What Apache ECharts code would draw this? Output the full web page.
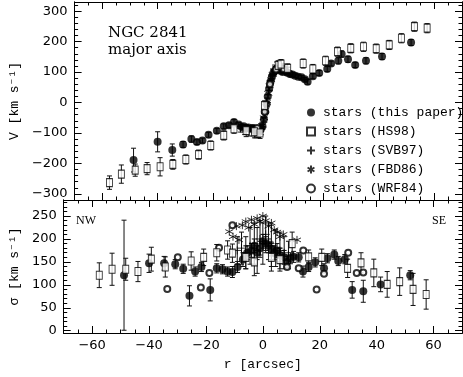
<!DOCTYPE html>
<html>
<head>
<meta charset="utf-8">
<script src="https://cdn.jsdelivr.net/npm/echarts@6/dist/echarts.min.js"></script>
<style>
html, body { margin: 0; padding: 0; background: #fff; }
#chart { width: 463px; height: 377px; }
</style>
</head>
<body>
<div id="chart"></div>
<script>
// ---- velocity panel: [r arcsec, V km/s, error] ----
var velThis = [
  [-48.7,-189,39],[-40,-129,33],[-34.7,-156,20],[-30.8,-138,10],[-27.8,-120,10],[-25.8,-130,8],
  [-23.8,-125,8],[-21.6,-106,8],[-18.6,-93,8],[-16.1,-78,8],[-14.2,-75,8],[-12.4,-64,8],
  [-10.7,-72,6],[-9.6,-80,6],[-8.9,-78,6],[-8,-84,6],[-7.2,-82,6],[-6.4,-86,6],[-5.6,-84,6],
  [-4.8,-90,6],[-4,-88,6],[-3.3,-92,6],[-2.7,-88,6],[-2.1,-78,6],[-1.6,-55,6],[-1.1,-30,6],
  [-0.6,-5,6],[-0.2,20,6],[0.3,45,6],[0.8,68,6],[1.3,85,6],[1.8,96,6],[2.4,104,6],[3,110,6],
  [3.7,108,6],[4.4,104,6],[5.2,100,6],[6,104,6],[6.9,98,6],[7.8,94,6],[8.7,92,6],[9.7,88,6],
  [10.8,85,6],[12,83,6],[13.2,76,6],[14.2,68,8],[16.1,86,8],[18.4,97,8],[21.3,110,8],
  [22.7,128,8],[25.3,137,10],[26.5,159,10],[28.8,142,10],[31.4,123,8],[35.3,137,10],
  [41.1,151,10],[51.6,197,10]
];
var velHS98 = [
  [-57.4,-263,22],[-53.1,-235,30],[-48.1,-222,20],[-43.8,-217,20],[-39.1,-211,30],[-34.5,-203,16],
  [-29.8,-187,15],[-25.2,-171,15],[-20.8,-141,15],[-16.1,-108,15],[-12.4,-86,15],[-8,-92,20],
  [-5,-96,20],[-3,-100,18],[-1.4,-10,15],[3.6,122,15],[4.6,126,15],[7,112,15],[12.6,128,15],
  [16.1,110,15],[20.7,137,15],[25,167,15],[29.8,178,15],[34.4,183,15],[39,177,15],
  [43.7,189,15],[48.1,211,15],[52.8,249,15],[57.4,244,15]
];
var velSVB97 = [
  [-10,-85,12],[-8.5,-90,15],[-7,-95,15],[-5.5,-92,18],[-4.5,-98,18],[-3.5,-95,20],[-2.5,-88,18],
  [-1.8,-65,15],[-1.2,-35,15],[-0.5,0,15],[0.2,40,15],[0.9,72,15],[1.6,92,15],[2.3,108,15],
  [3,118,15],[4,120,15],[5,112,15],[6,108,12],[7,104,12]
];
var velFBD86 = [
  [-8,-90],[-7,-86],[-6,-92],[-5,-88],[-4,-95],[-3,-90],[-2.2,-75],[-1.6,-50],[-1.1,-25],
  [-0.6,0],[0,30],[0.5,55],[1,75],[1.6,92],[2.2,105],[3,112],[4,110],[5,104],[6,100],[7.5,95]
];
var velWRF84 = [[-4,-84],[-1.3,-30],[0.6,60],[2.8,108],[5.5,110]];

// ---- dispersion panel: [r arcsec, sigma km/s, error] ----
var sigThis = [
  [-48.8,121,120],[-40,147,20],[-34.7,147,15],[-30.8,145,10],[-28,135,10],[-25.8,76,22],
  [-23.8,129,10],[-21.6,139,10],[-18.5,89,24],[-16.2,136,10],[-14.2,134,10],[-12.4,129,10],
  [-10.7,128,12],[-8.9,139,12],[-7,155,15],[-5.5,170,15],[-4,175,15],[-3,185,15],[-2,170,15],
  [-1,180,15],[0,195,15],[1,190,15],[2,185,15],[3,178,15],[4,170,15],[5,175,15],[6,165,15],
  [7.5,160,15],[8.5,150,12],[9.7,158,12],[10.8,161,12],[12.6,160,10],[14.1,129,12],
  [16.1,139,10],[18.4,149,10],[21.5,136,10],[22.7,158,10],[25.1,166,10],[26.5,152,10],
  [28.8,156,10],[31.4,89,18],[35.3,86,24],[41.4,101,16],[51.8,121,10]
];
var sigHS98 = [
  [-57.5,121,27],[-53,134,35],[-48.2,134,24],[-43.9,129,22],[-39.2,156,26],[-34.3,139,22],
  [-25.2,152,20],[-20.8,160,18],[-16.2,170,18],[-12.4,176,20],[-10.7,169,20],[-6,160,25],
  [-3,150,30],[3,160,30],[6,155,25],[10.3,190,25],[16.1,161,15],[20.7,160,18],[29.8,136,20],
  [34.5,148,22],[39,126,30],[43.7,101,28],[48.1,107,30],[52.8,90,35],[57.4,79,32]
];
var sigSVB97 = [
  [-9,175,30],[-7.5,180,35],[-6,170,35],[-4.5,185,40],[-3,190,45],[-2,175,50],[-1,200,40],
  [0,190,45],[1,210,40],[2,195,40],[3,185,45],[4.5,180,40],[6,175,40],[7.5,170,35],[9,165,30]
];
var sigFBD86 = [
  [-11.8,216],[-10.5,205],[-9.3,228],[-8.4,198],[-7.2,230],[-6,238],[-5,225],[-4,242],[-3,232],
  [-2,245],[-1,238],[0,250],[1,240],[2,228],[3,235],[4,220],[5,215],[6,205],[7.2,210],[12,198]
];
var sigWRF84 = [
  [-33.6,91],[-29.9,160],[-21.8,94],[-18.8,126],[-15.4,181],[-10.7,230],[8.5,139],[12.6,136],
  [14.2,175],[18.9,90],[21.5,124],[30,170],[33,126],[35.3,127]
];

// ticks
var xMajor = [-60, -40, -20, 0, 20, 40, 60];
var vMajor = [-300, -200, -100, 0, 100, 200, 300];
var sMajor = [0, 50, 100, 150, 200, 250];
var xMinor = [], vMinor = [], sMinor = [];
for (var i = -70; i <= 70; i += 5) xMinor.push(i);
for (var i = -320; i <= 320; i += 20) vMinor.push(i);
for (var i = 0; i <= 280; i += 10) sMinor.push(i);

var names = ["stars (this paper)", "stars (HS98)", "stars (SVB97)", "stars (FBD86)", "stars (WRF84)"];

var tickFont = "DejaVu Sans";
var monoFont = '"Liberation Mono", "DejaVu Sans Mono", monospace';

function fmt(v) { return v < 0 ? "\u2212" + (-v) : String(v); }

function axis(kind, grid, pos, min, max, vals, len, labels) {
  return {
    type: "value", gridIndex: grid, position: pos, min: min, max: max,
    axisLine: { show: true, onZero: false, lineStyle: { color: "#000", width: 1 } },
    splitLine: { show: false },
    axisTick: { show: true, inside: true, length: len, customValues: vals, lineStyle: { color: "#000", width: 1 } },
    axisLabel: { show: !!labels, customValues: vals, formatter: fmt, color: "#000",
      fontFamily: tickFont, fontSize: 13, margin: kind == "x" ? 6 : 7 }
  };
}

var xAxes = [], yAxes = [];
[0, 1].forEach(function (g) {
  xAxes.push(axis("x", g, "bottom", -70, 70, xMajor, 7, g == 1));
  xAxes.push(axis("x", g, "bottom", -70, 70, xMinor, 3.5));
  xAxes.push(axis("x", g, "top", -70, 70, xMajor, 7));
  xAxes.push(axis("x", g, "top", -70, 70, xMinor, 3.5));
});
var ylims = [[-320, 330, vMajor, vMinor], [-5, 285, sMajor, sMinor]];
[0, 1].forEach(function (g) {
  var l = ylims[g];
  yAxes.push(axis("y", g, "left", l[0], l[1], l[2], 7, true));
  yAxes.push(axis("y", g, "left", l[0], l[1], l[3], 3.5));
  yAxes.push(axis("y", g, "right", l[0], l[1], l[2], 7));
  yAxes.push(axis("y", g, "right", l[0], l[1], l[3], 3.5));
});
xAxes[4].name = "r [arcsec]";
xAxes[4].nameLocation = "middle";
xAxes[4].nameGap = 25;
xAxes[4].nameTextStyle = { fontFamily: monoFont, fontSize: 13, color: "#000" };
yAxes[0].name = "V [km s\u207B\u00B9]";
yAxes[4].name = "\u03C3 [km s\u207B\u00B9]";
[0, 4].forEach(function (k) {
  yAxes[k].nameLocation = "middle";
  yAxes[k].nameGap = 42;
  yAxes[k].nameRotate = 90;
  yAxes[k].nameTextStyle = { fontFamily: monoFont, fontSize: 13, color: "#000" };
});

function errBar(params, api) {
  var x = api.value(0), y = api.value(1), e = api.value(2);
  var lo = api.coord([x, y - e]), hi = api.coord([x, y + e]);
  var c = 2.5, st = { stroke: "#111", lineWidth: 1 };
  return { type: "group", children: [
    { type: "line", shape: { x1: lo[0], y1: lo[1], x2: hi[0], y2: hi[1] }, style: st },
    { type: "line", shape: { x1: lo[0] - c, y1: lo[1], x2: lo[0] + c, y2: lo[1] }, style: st },
    { type: "line", shape: { x1: hi[0] - c, y1: hi[1], x2: hi[0] + c, y2: hi[1] }, style: st }
  ]};
}

var styles = [
  { symbol: "circle", symbolSize: 8, itemStyle: { color: "#000" } },
  { symbol: "rect", symbolSize: [6, 8], itemStyle: { color: "#fff", borderColor: "#000", borderWidth: 1 } },
  { symbol: "path://M5,0L5,10M0,5L10,5", symbolSize: 8, itemStyle: { color: "transparent", borderColor: "#000", borderWidth: 1 } },
  { symbol: "path://M5,0L5,10M0.7,2.5L9.3,7.5M0.7,7.5L9.3,2.5", symbolSize: 8, itemStyle: { color: "transparent", borderColor: "#000", borderWidth: 1 } },
  { symbol: "emptyCircle", symbolSize: 6, itemStyle: { color: "#000", borderColor: "#000", borderWidth: 1 } }
];

var series = [];
function addSet(idx, data, g, withErr) {
  var xi = g * 4, yi = g * 4;
  if (withErr) {
    series.push({ type: "custom", renderItem: errBar, data: data, encode: { x: 0, y: 1 },
      xAxisIndex: xi, yAxisIndex: yi, silent: true, z: 2 });
  }
  var s = styles[idx];
  series.push({ type: "scatter", name: names[idx], data: data, encode: { x: 0, y: 1 },
    xAxisIndex: xi, yAxisIndex: yi, symbol: s.symbol, symbolSize: s.symbolSize,
    itemStyle: s.itemStyle, z: 3 + (idx == 1 ? 1 : 0) });
}
addSet(1, velHS98, 0, true);
addSet(2, velSVB97, 0, true);
addSet(0, velThis, 0, true);
addSet(3, velFBD86, 0, false);
addSet(4, velWRF84, 0, false);
addSet(1, sigHS98, 1, true);
addSet(2, sigSVB97, 1, true);
addSet(0, sigThis, 1, true);
addSet(3, sigFBD86, 1, false);
addSet(4, sigWRF84, 1, false);

var chart = echarts.init(document.getElementById("chart"));
chart.setOption({
  animation: false,
  backgroundColor: "#fff",
  grid: [
    { left: 62, top: 2, width: 400, height: 198 },
    { left: 62, top: 200, width: 400, height: 133 }
  ],
  xAxis: xAxes,
  yAxis: yAxes,
  legend: {
    orient: "vertical", left: 301, top: 101, itemWidth: 8, itemHeight: 8, itemGap: 6,
    selectedMode: false, data: names,
    textStyle: { fontFamily: monoFont, fontSize: 13, color: "#000", lineHeight: 13, padding: [0, 0, 0, 3] }
  },
  graphic: [
    { type: "text", left: 108, top: 26, style: { text: "NGC 2841", font: "15px 'DejaVu Serif'", fill: "#000" } },
    { type: "text", left: 108, top: 43, style: { text: "major axis", font: "15px 'DejaVu Serif'", fill: "#000" } },
    { type: "text", left: 76, top: 215, style: { text: "NW", font: "12px 'Liberation Serif'", fill: "#000" } },
    { type: "text", left: 432, top: 215, style: { text: "SE", font: "12px 'Liberation Serif'", fill: "#000" } }
  ],
  series: series
});
</script>
</body>
</html>
